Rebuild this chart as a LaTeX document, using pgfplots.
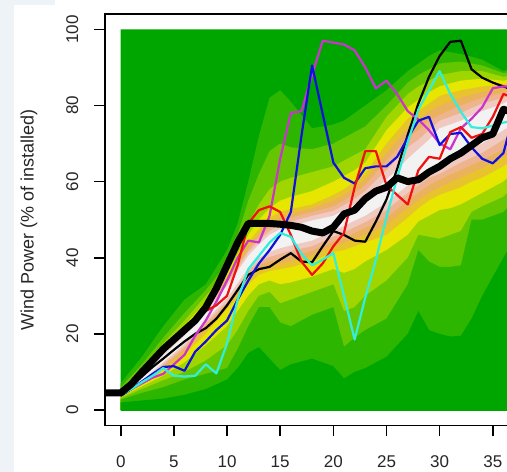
\documentclass[border=0pt]{standalone}
\usepackage{fontspec}
\setmainfont{Liberation Sans}
\usepackage{pgfplots}
\usepackage{pgfplotstable}
\pgfplotsset{compat=1.18}
\definecolor{c0}{HTML}{00A600}
\definecolor{c1}{HTML}{2DB600}
\definecolor{c2}{HTML}{63C600}
\definecolor{c3}{HTML}{A0D600}
\definecolor{c4}{HTML}{E6E600}
\definecolor{c5}{HTML}{E8C32E}
\definecolor{c6}{HTML}{EBB25E}
\definecolor{c7}{HTML}{EDB48E}
\definecolor{c8}{HTML}{F0C9C0}
\definecolor{c9}{HTML}{F2F2F2}
\definecolor{bgc}{HTML}{EEF3F7}
\definecolor{tickc}{HTML}{262626}
\definecolor{lmag}{HTML}{CC33CC}
\definecolor{lblu}{HTML}{1010DD}
\definecolor{lred}{HTML}{F01010}
\definecolor{lcya}{HTML}{33EEDD}

\pgfplotstableread{
x l1 l2 l3 l4 l5 l6 l7 l8 l9 u9 u8 u7 u6 u5 u4 u3 u2 u1
0 2 2.7 3 3.3 3.5 3.6 3.7 3.8 3.9 4.2 4.3 4.4 4.6 4.8 5 5.5 6 7
2 2.5 4.5 5.5 6.2 6.8 7 7.2 7.4 7.6 8.5 8.8 9.1 9.4 9.7 10.2 10.8 12 14
4 3 6 7.8 9 10.5 11 11.5 12 12.5 14.3 14.8 15.2 15.6 16 16.6 17.5 19 22
6 4 8 10 12.5 14.5 15.3 16 16.6 17.3 19.5 20 20.5 21 21.5 22.2 23.5 25.5 29
8 5.5 9.5 13 17 20 21 22 22.8 23.5 25.5 26.2 26.8 27.3 27.8 28.5 30 31.5 33
10 8 11 17 22 26.5 27 27.5 28.3 29.3 32.5 33.3 34 34.5 35 35.8 37 38.5 42
11 11 16 21 26 29.5 30.5 31.5 32.3 33.3 36.5 37.3 38 38.8 39.5 41 43 46 49
12 15 22 26 30 33 34.5 35.5 36.5 37.3 40.5 41.5 42.3 43 44 46 49 55 60
13 16.5 27 30 33 35.5 37 38 39 40 43.5 44.5 45.5 46.3 47.5 50 54 62 72
14 13.5 27 31 34 36.5 38 39 40.2 41.5 46 47 48 49 50.5 53 58 68 82
15 10.5 23 28 33 37 38.5 39.5 41 42.5 47.5 48.8 49.8 50.8 52 55 60 70 84
16 12 22 29 33.5 37.5 39 40.3 41.8 43.2 48.3 49.5 50.5 51.5 52.8 56 61 69 81
18 13.5 25 31 35 39 40.5 41.8 43 44.5 49.8 51 52 53 54 57.5 62.5 68.5 74
20 11.5 27 33 37 41.5 43 44.3 45.5 47 51 52.3 53.5 55 56.5 60 64 70 75
21 8.3 16.6 26 36 42 43.8 45.2 46.6 48.3 52.5 53.8 55 56.5 58 61.5 65.5 71.5 76
22 10 19 27 37 43 45 46.5 48 49.7 54 55.5 57 58.5 60 63 67 73 78
23 11 21 30 39 44 46 47.8 49.3 51 55.8 57.5 59 60.5 62 65 68.5 74.5 80
25 14 24 34 42 46 48.5 50.5 52.5 54.5 60.5 63 65.5 67.5 70 73.5 77 80 84
27 20 33 40 46 50.5 53 55 57 59 66 69 71.5 74 76.5 79.5 83 86 89
28 26 42 46 49.5 53 55 57 59 61 68.5 71 73.5 76 78.5 81.5 85 88 91
29 21 39 45.5 51 55 57 59 61 63 71 73.5 76 78.5 80.5 83.5 86.5 89.5 93
30 20 37.6 45 52.5 56.5 58.5 60.5 62 64.5 74 76 77.5 80 82.5 85 88 91 94.5
31 19.3 37.6 46 53 57.5 59.8 61.8 63.5 65.8 75 77 78.8 81 83.3 85.8 88.5 91.3 94
32 19.5 38 47 54 58.5 61 63 65 67 76 78 80 82 84 86.5 89 91.5 93.5
33 24 50 52 55.5 60 62.3 64.3 66.3 68.5 77.3 79.3 81 82.8 84.5 86.8 89 91 92.8
34 30 50 53.5 57 61 63.5 65.5 67.5 70 78.5 80.5 82 83.5 85 87 89 90.5 92
36 40 52 56 60 64 66.5 68.5 71 73.5 80.5 82 83.3 84.5 85.5 86.5 87.5 88.5 89
37 45 55 59 62.5 66 68 70 72.5 75 82 83 84 85 86 87 88 89 90
}\fantab

\pgfplotstableread{
x blk mag blu red cya
0 4 4 3.7 4 4
1 6.3 5.5 5.5 6.5 5.5
2 8.8 7 7.5 9.5 7.3
3 11.3 8.5 9.5 12.5 9
4 13.5 9.5 11.3 15.5 11
5 15.8 12 11.5 18 9
6 18 14.5 10.3 20.5 8.8
7 20 19.5 15.3 23.5 9
8 21.5 23.5 18 26 12
9 24 28.5 21 27.5 9.6
10 27.5 34 23.5 30 17.5
11 31.5 40 29 38 29
12 35.5 44.5 34 49 37
13 37 44 38.5 52.5 40.5
14 37.6 51 42 53.5 44
15 39.5 66 46 52 46.5
16 41.2 78 52 46 45.5
17 39 78.5 72 39 41
18 38.8 88 90.5 35.5 38
19 43 97 77.7 38.5 39.5
20 47 96.5 65 43 41.2
21 46 96 61 46.5 30
22 44.5 94.5 59.5 58.5 18.5
23 44.2 90 63.5 68 29.5
24 49.5 84.5 64 68 39.4
25 55.3 86.5 64 59 50.7
26 63.3 83 66.5 56.5 61
27 72.3 78.5 71.5 54 70.4
28 80.5 76.3 76 63 79
29 87.5 73.5 77 66.5 84
30 93 70 69.6 66 89
31 96.7 68.5 72.5 73 83
32 97 74 72.8 74.3 78.3
33 89.5 76.5 69 71.5 74.3
34 87.3 79.5 66 72.5 74
35 86 84.5 64.8 77 74.7
36 85 85 67.5 83 75.5
37 84 85 78 82 76
}\linetab

\pgfplotstableread{
x obs
-2 4.5
-1 4.5
0 4.5
1 6.8
2 10
3 13
4 16
5 18.5
6 21
7 23.5
8 27
9 32
10 38
11 44
12 49
13 49
14 49
15 48.8
16 48.5
17 48
18 47
19 46.5
20 48
21 51.5
22 52.5
23 55.5
24 57.5
25 58.5
26 61
27 60
28 60.5
29 62.5
30 64
31 66
32 67.5
33 69.5
34 71.5
35 72.5
36 79
37 78
}\obstab

\begin{document}
\begin{tikzpicture}
\begin{axis}[
  at={(105bp,46.5bp)}, anchor=south west,
  scale only axis, width=424.8bp, height=411.5bp,
  xmin=-1.48, xmax=38.48, ymin=-4.07, ymax=104.02,
  axis line style={line width=1.6bp, black},
  xtick={0,5,...,35}, ytick={0,20,...,100},
  tick pos=left, tick align=outside, major tick length=11bp,
  tick style={line width=1.6bp, black},
  /pgf/number format/assume math mode=true,
  ticklabel style={font=\fontsize{17bp}{20bp}\selectfont, text=tickc},
  xticklabel style={anchor=north, inner sep=0pt, yshift=-19bp},
  yticklabel style={rotate=90, anchor=south, inner sep=0pt, yshift=15.5bp},
  ylabel={Wind Power (\% of installed)},
  ylabel style={at={(axis description cs:-0.179,0.5)}, anchor=center, font=\fontsize{18bp}{20bp}\selectfont, text=tickc},
]
\addplot[fill=c0, draw=none] coordinates {(0,0) (37,0) (37,100) (0,100) (0,0)};
% painter's order: fill below each upper bound, inner last; then below each lower bound
\addplot[fill=c1, draw=none] table[x=x, y=u1]{\fantab} \closedcycle;
\addplot[fill=c2, draw=none] table[x=x, y=u2]{\fantab} \closedcycle;
\addplot[fill=c3, draw=none] table[x=x, y=u3]{\fantab} \closedcycle;
\addplot[fill=c4, draw=none] table[x=x, y=u4]{\fantab} \closedcycle;
\addplot[fill=c5, draw=none] table[x=x, y=u5]{\fantab} \closedcycle;
\addplot[fill=c6, draw=none] table[x=x, y=u6]{\fantab} \closedcycle;
\addplot[fill=c7, draw=none] table[x=x, y=u7]{\fantab} \closedcycle;
\addplot[fill=c8, draw=none] table[x=x, y=u8]{\fantab} \closedcycle;
\addplot[fill=c9, draw=none] table[x=x, y=u9]{\fantab} \closedcycle;
\addplot[fill=c8, draw=none] table[x=x, y=l9]{\fantab} \closedcycle;
\addplot[fill=c7, draw=none] table[x=x, y=l8]{\fantab} \closedcycle;
\addplot[fill=c6, draw=none] table[x=x, y=l7]{\fantab} \closedcycle;
\addplot[fill=c5, draw=none] table[x=x, y=l6]{\fantab} \closedcycle;
\addplot[fill=c4, draw=none] table[x=x, y=l5]{\fantab} \closedcycle;
\addplot[fill=c3, draw=none] table[x=x, y=l4]{\fantab} \closedcycle;
\addplot[fill=c2, draw=none] table[x=x, y=l3]{\fantab} \closedcycle;
\addplot[fill=c1, draw=none] table[x=x, y=l2]{\fantab} \closedcycle;
\addplot[fill=c0, draw=none] table[x=x, y=l1]{\fantab} \closedcycle;
\addplot[c0, line width=1.8bp, no marks] coordinates {(0,0.05) (37,0.05)};
\addplot[black, line width=2.2bp, line join=round, no marks] table[x=x, y=blk]{\linetab};
\addplot[lmag, line width=2.2bp, line join=round, no marks] table[x=x, y=mag]{\linetab};
\addplot[lblu, line width=2.2bp, line join=round, no marks] table[x=x, y=blu]{\linetab};
\addplot[lred, line width=2.2bp, line join=round, no marks] table[x=x, y=red]{\linetab};
\addplot[lcya, line width=2.2bp, line join=round, no marks] table[x=x, y=cya]{\linetab};
\addplot[black, line width=7bp, line join=round, no marks] table[x=x, y=obs]{\obstab};
\end{axis}
\fill[bgc] (0,0) rectangle (14bp,472bp);
\fill[bgc] (14bp,467bp) rectangle (55bp,472bp);
\pgfresetboundingbox
\useasboundingbox (0,0) rectangle (507bp,472bp);
\end{tikzpicture}
\end{document}
